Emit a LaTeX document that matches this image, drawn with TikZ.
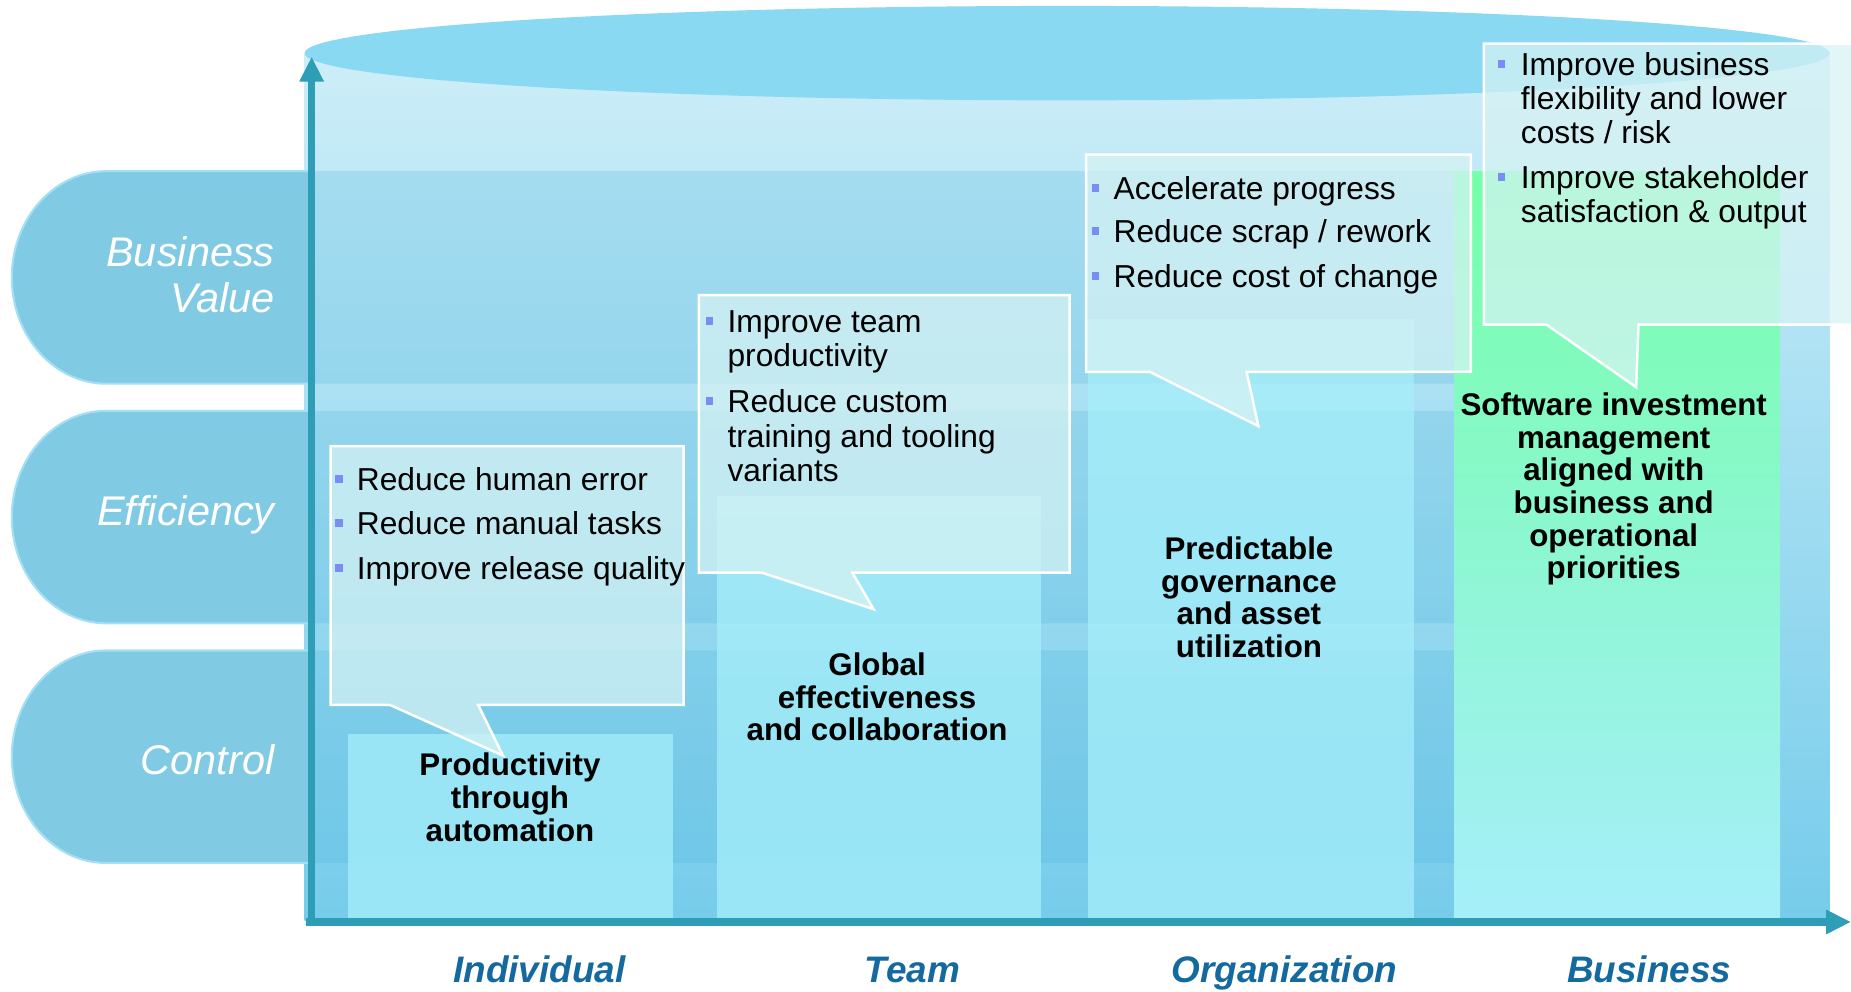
\documentclass[tikz,border=0pt]{standalone}
\usepackage{fontspec}
\setmainfont{Liberation Sans}
\usetikzlibrary{positioning}
\usetikzlibrary{arrows.meta}
\definecolor{tabblue}{HTML}{80CAE4}
\definecolor{tabedge}{HTML}{A3E0F7}
\definecolor{lidblue}{HTML}{88D9F1}
\definecolor{bodytop}{HTML}{CDEEF8}
\definecolor{bodybot}{HTML}{76CCEB}
\definecolor{bandblue}{HTML}{4DB5DC}
\definecolor{colcyan}{HTML}{A6EFFA}
\definecolor{colgreen}{HTML}{74FFA8}
\definecolor{axisblue}{HTML}{2E9DB6}
\definecolor{labelblue}{HTML}{14699F}
\definecolor{dotblue}{HTML}{7B8CF2}
\definecolor{bubblefill}{HTML}{D8F3F4}
\tikzset{%
  tab/.style = {fill=tabblue, draw=tabedge, line width=1pt},
  band/.style = {fill=bandblue, fill opacity=0.24},
  col/.style = {fill=colcyan, fill opacity=0.75},
  axis/.style = {-{Triangle[width=11pt,length=12pt]}, draw=axisblue,
        line width=3.4pt},
  bubble/.style = {fill=bubblefill, fill opacity=0.7, draw=white,
        line width=1.2pt},
  item/.style = {anchor=west, inner sep=0pt, text height=11pt,
        text depth=0pt, font=\fontsize{15.3}{16.5}\selectfont},
  dot/.style = {fill=dotblue, inner sep=0pt, minimum width=3.6pt,
        minimum height=3.8pt},
  goal/.style = {anchor=base, inner sep=0pt,
        font=\fontsize{15.1}{16}\selectfont\bfseries},
  level/.style = {anchor=base east, inner sep=0pt, text=white,
        font=\fontsize{20}{22}\selectfont\itshape},
  stage/.style = {anchor=base, inner sep=0pt, text=labelblue,
        font=\fontsize{17.8}{20}\selectfont\bfseries\itshape}
}

\begin{document}
\begin{tikzpicture}[x=0.02cm, y=-0.02cm]
        \useasboundingbox (0,0) rectangle (1568,840);
        \clip (0,0) rectangle (1568,840);
        \fill[white] (0,0) rectangle (1568,840);

        % cylinder
        \shade[top color=bodytop, bottom color=bodybot] (258,45) rectangle (1550,780);
        \fill[lidblue] (904,45) ellipse [x radius=646, y radius=40];

        % bands
        \foreach \ya/\yb in {145/325, 348/528, 551/731}
        {
          \fill[band] (262,\ya) -- (1428,\ya)
            arc[start angle=-90, end angle=90, x radius=80, y radius=90]
            -- (262,\yb) -- cycle;
          \draw[tab] (262,\ya) -- (90,\ya)
            arc[start angle=270, end angle=90, x radius=80, y radius=90]
            -- (262,\yb);
        }

        % columns
        \fill[col] (295,622) rectangle (570,778);
        \fill[col] (607,420) rectangle (882,778);
        \fill[col] (922,270) rectangle (1198,778);
        \shade[top color=colgreen, bottom color=colcyan] (1232,145) rectangle (1508,778);

        \node[level] (lvl-1) at (233,226) {Business};
        \node[level] (lvl-2) at (233,265) {Value};
        \node[level] (lvl-3) at (233,445) {Efficiency};
        \node[level] (lvl-4) at (233,656) {Control};

        % axes
        \coordinate (origin) at (264,784);
        \coordinate (ytip) at (264,48);
        \coordinate (xstart) at (259,781);
        \coordinate (xtip) at (1568,781);
        \draw[axis] (origin) -- (ytip);
        \draw[axis] (xstart) -- (xtip);

        % callouts
        \draw[bubble] (280,378) -- (579,378) -- (579,597) -- (405,597) -- (426,640)
          -- (330,597) -- (280,597) -- cycle;
        \draw[bubble] (592,250) -- (906,250) -- (906,485) -- (722,485) -- (740,516)
          -- (645,485) -- (592,485) -- cycle;
        \draw[bubble] (920,131) -- (1246,131) -- (1246,315) -- (1056,315) -- (1066,361)
          -- (974,315) -- (920,315) -- cycle;
        \draw[bubble] (1257,37) -- (1600,37) -- (1600,275) -- (1388,275) -- (1386,328)
          -- (1310,275) -- (1257,275) -- cycle;

        \foreach \x/\y/\s [count=\i] in {302/406/Reduce human error,
            302/443/Reduce manual tasks, 302/481/Improve release quality,
            616/272/Improve team, 616/301/productivity, 616/340/Reduce custom,
            616/369/training and tooling, 616/398/variants,
            943/159/Accelerate progress, 943/196/{Reduce scrap / rework},
            943/234/Reduce cost of change,
            1288/54/Improve business, 1288/83/flexibility and lower,
            1288/112/{costs / risk}, 1288/150/Improve stakeholder,
            1288/179/satisfaction \& output}
          \node[item] (line-\i) at (\x,\y) {\s};
        \foreach \x/\y [count=\i] in {287/406, 287/443, 287/481, 601/272, 601/340,
            928/159, 928/196, 928/234, 1272/54, 1272/150}
          \node[dot] (dot-\i) at (\x,\y) {};

        \foreach \x/\y/\s [count=\i] in {432/657/Productivity, 432/685/through,
            432/713/automation, 743/572/Global, 743/600/effectiveness,
            743/627/and collaboration, 1058/474/Predictable, 1058/502/governance,
            1058/529/and asset, 1058/557/utilization, 1367/352/Software investment,
            1367/380/management, 1367/407/aligned with, 1367/435/business and,
            1367/463/operational, 1367/490/priorities}
          \node[goal] (goal-\i) at (\x,\y) {\s};

        \node[stage] (st-1) at (457,832) {Individual};
        \node[stage] (st-2) at (773,832) {Team};
        \node[stage] (st-3) at (1088,832) {Organization};
        \node[stage] (st-4) at (1397,832) {Business};

    \end{tikzpicture}
\end{document}
